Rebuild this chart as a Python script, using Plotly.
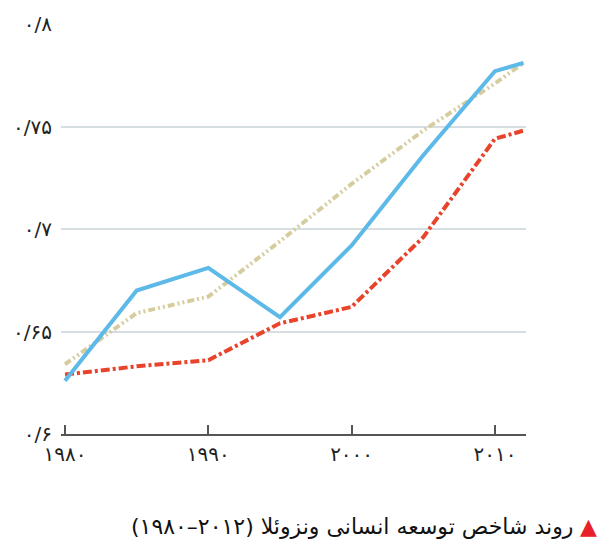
import plotly.graph_objects as go

years = [1980, 1985, 1990, 1995, 2000, 2005, 2010, 2011, 2012]
blue_vals = [0.626, 0.670, 0.681, 0.657, 0.692, 0.736, 0.777, 0.779, 0.781]
beige_vals = [0.634, 0.659, 0.667, 0.694, 0.722, 0.748, 0.771, 0.776, 0.781]
red_vals = [0.629, 0.633, 0.636, 0.654, 0.662, 0.696, 0.744, 0.746, 0.748]

y_ticks = [0.6, 0.65, 0.7, 0.75, 0.8]
y_labels = ["۰/۶", "۰/۶۵", "۰/۷", "۰/۷۵", "۰/۸"]
x_ticks = [1980, 1990, 2000, 2010]
x_labels = ["۱۹۸۰", "۱۹۹۰", "۲۰۰۰", "۲۰۱۰"]
caption_words = "روند شاخص توسعه انسانی ونزوئلا"
caption_years = "۱۹۸۰–۲۰۱۲"

fig = go.Figure()
fig.add_trace(go.Scatter(x=years, y=beige_vals, mode="lines",
                         line=dict(color="#d6cd9f", width=4, dash="7px,3px,2px,3px,2px,3px")))
fig.add_trace(go.Scatter(x=years, y=red_vals, mode="lines",
                         line=dict(color="#e8432b", width=4, dash="9px,3px,3px,3px")))
fig.add_trace(go.Scatter(x=years, y=blue_vals, mode="lines",
                         line=dict(color="#5cb9e8", width=4)))

fig.update_layout(
    width=600, height=552,
    margin=dict(l=61, r=74, t=19, b=118),
    paper_bgcolor="white", plot_bgcolor="white",
    showlegend=False,
    font=dict(family="DejaVu Sans", color="#222"),
    xaxis=dict(range=[1979.72, 2012.17], tickvals=x_ticks, ticktext=x_labels,
               showgrid=False, zeroline=False, showline=True, linecolor="#555", linewidth=2,
               ticks="inside", ticklen=9, tickwidth=2, tickcolor="#555",
               ticklabelstandoff=1,
               tickfont=dict(size=20, color="#222")),
    yaxis=dict(range=[0.6, 0.8], tickvals=y_ticks, ticktext=y_labels,
               showgrid=True, gridcolor="#d6dee2", gridwidth=1.5, zeroline=False,
               showline=False, ticks="", ticklabelstandoff=8,
               tickfont=dict(size=20, color="#222")),
)

caption = "\u202b" + caption_words + " (\u202a" + caption_years + "\u202c)\u202c"
fig.add_annotation(xref="paper", yref="paper", x=1.105, y=-0.2265,
                   xanchor="right", yanchor="middle", showarrow=False,
                   text=caption,
                   font=dict(size=22, color="#111", family="DejaVu Sans"))
fig.add_annotation(xref="paper", yref="paper", x=1.135, y=-0.2265,
                   xanchor="center", yanchor="middle", showarrow=False,
                   text="▲", font=dict(size=22, color="#e8202a", family="DejaVu Sans"))

fig.write_html("out.html")
